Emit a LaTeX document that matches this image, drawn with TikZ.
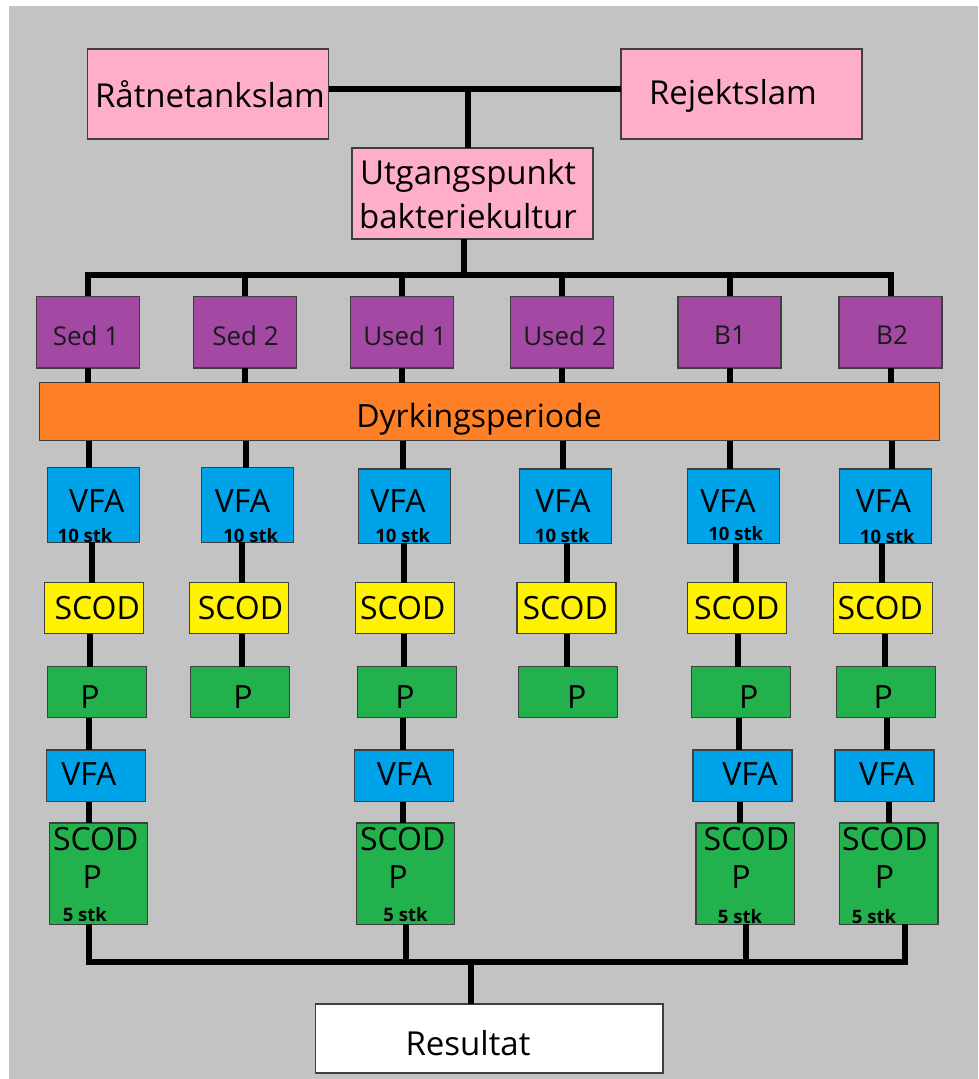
\documentclass[tikz,border=0pt]{standalone}
\usepackage{fontspec}
\setmainfont{Open Sans}
\definecolor{bgray}{HTML}{C3C3C3}
\definecolor{pinkc}{HTML}{FFAEC9}
\definecolor{purpc}{HTML}{A349A4}
\definecolor{orangec}{HTML}{FF7F27}
\definecolor{bluec}{HTML}{00A2E8}
\definecolor{yellowc}{HTML}{FFF200}
\definecolor{greenc}{HTML}{22B14C}
\definecolor{boxline}{HTML}{3F3F3F}
\newcommand\vlk[3]{\draw[conn] (#1.south -| #3,0) -- (#2.north -| #3,0);}
\begin{document}
\begin{tikzpicture}[x=1pt,y=-1pt,
  box/.style={draw=boxline,line width=1.3pt,inner sep=0pt,outer sep=0pt},
  topbox/.style={box,fill=pinkc,minimum width=241pt,minimum height=90pt},
  purpbox/.style={box,fill=purpc,minimum width=103pt,minimum height=71.7pt},
  bandbox/.style={box,fill=orangec,minimum width=900pt,minimum height=58pt},
  vfabox/.style={box,fill=bluec,minimum width=92pt,minimum height=74.5pt},
  vfatwo/.style={box,fill=bluec,minimum width=99pt,minimum height=51.7pt},
  scodbox/.style={box,fill=yellowc,minimum width=99pt,minimum height=51pt},
  pbox/.style={box,fill=greenc,minimum width=99pt,minimum height=51pt},
  scpbox/.style={box,fill=greenc,minimum width=98.5pt,minimum height=101.3pt},
  resbox/.style={box,fill=white,minimum width=347.3pt,minimum height=69pt},
  txt/.style={inner sep=0pt,text=black},
  bigtxt/.style={txt,font=\fontsize{33}{44}\selectfont},
  midtxt/.style={txt,font=\fontsize{32}{40}\selectfont},
  purtxt/.style={txt,font=\fontsize{26}{30}\selectfont,text=black!90},
  smalltxt/.style={txt,font=\bfseries\fontsize{18.5}{22}\selectfont},
  conn/.style={line width=6pt,black},
  hconn/.style={line width=6.5pt,black,line cap=rect}
]
\useasboundingbox (0,0) rectangle (978,1079);
\fill[white] (0,0) rectangle (978,1079);
\fill[bgray] (8.7,6) rectangle (978,1079);

% ---- top ----
\node[topbox] (rat) at (208,94) {};
\node[topbox] (rej) at (741.5,94) {};
\node[topbox,minimum height=91pt] (utg) at (472.5,193.5) {};
\node[bigtxt] (ratT) at (210,94) {Råtnetankslam};
\node[bigtxt] (rejT) at (733,96) {Rejektslam};
\node[bigtxt,align=center] (utgT) at (468,194) {Utgangspunkt\\bakteriekultur};
\coordinate (j1) at (468,89);
\coordinate (j2) at (463.5,275);
\draw[conn,line width=6.5pt] (rat.east |- j1) -- (rej.west |- j1);
\draw[conn] (j1) -- (j1 |- utg.north);
\draw[conn] (utg.south -| j2) -- (j2);

% ---- purple row ----
\node[purpbox] (s1) at (88,332) {};
\node[purpbox] (s2) at (245,332) {};
\node[purpbox] (u1) at (402,332) {};
\node[purpbox] (u2) at (561.7,332) {};
\node[purpbox] (b1) at (729.5,332) {};
\node[purpbox] (b2) at (890.5,332) {};
\node[purtxt] (s1T) at (86,335.5) {Sed 1};
\node[purtxt] (s2T) at (245.5,335.5) {Sed 2};
\node[purtxt] (u1T) at (405,335.5) {Used 1};
\node[purtxt] (u2T) at (565,335.5) {Used 2};
\node[purtxt] (b1T) at (730,335.5) {B1};
\node[purtxt] (b2T) at (892,335.5) {B2};
\draw[hconn] (s1.north |- j2) -- (b2.north |- j2);
\foreach \n in {s1,s2,u1,u2,b1,b2}{\draw[conn] (\n.north |- j2) -- (\n.north);}

% ---- band ----
\node[bandbox] (band) at (489.3,411.7) {};
\node[midtxt] (bandT) at (479,419) {Dyrkingsperiode};
\foreach \n in {s1,s2,u1,u2,b1,b2}{\draw[conn] (\n.south) -- (\n.south |- band.north);}

% ---- VFA row ----
\node[vfabox] (va1) at (93.5,505) {};
\node[vfabox] (va2) at (247.8,505) {};
\node[vfabox] (va3) at (404.7,506.2) {};
\node[vfabox] (va4) at (565.7,506.2) {};
\node[vfabox] (va5) at (733.5,506.2) {};
\node[vfabox] (va6) at (885.2,506.2) {};
\draw[conn] (band.south -| 89,0) -- (va1.north -| 89,0);
\draw[conn] (band.south -| 246,0) -- (va2.north -| 246,0);
\draw[conn] (band.south -| 403,0) -- (va3.north -| 403,0);
\draw[conn] (band.south -| 563,0) -- (va4.north -| 563,0);
\draw[conn] (band.south -| 730.3,0) -- (va5.north -| 730.3,0);
\draw[conn] (band.south -| 891.7,0) -- (va6.north -| 891.7,0);

% ---- SCOD row ----
\node[scodbox] (sc1) at (94.2,608.2) {};
\node[scodbox] (sc2) at (239,608.2) {};
\node[scodbox] (sc3) at (405.3,608.2) {};
\node[scodbox] (sc4) at (566.5,608.2) {};
\node[scodbox] (sc5) at (737,608.2) {};
\node[scodbox] (sc6) at (883,608.2) {};
\vlk{va1}{sc1}{92}
\vlk{va2}{sc2}{242.3}
\vlk{va3}{sc3}{404.3}
\vlk{va4}{sc4}{567}
\vlk{va5}{sc5}{736}
\vlk{va6}{sc6}{882.3}

% ---- P row ----
\node[pbox] (p1) at (97,692.2) {};
\node[pbox] (p2) at (240.3,692.2) {};
\node[pbox] (p3) at (406.7,692.2) {};
\node[pbox] (p4) at (567.8,692.2) {};
\node[pbox] (p5) at (741.2,692.2) {};
\node[pbox] (p6) at (885.8,692.2) {};
\vlk{sc1}{p1}{90.3}
\vlk{sc2}{p2}{242.3}
\vlk{sc3}{p3}{404.3}
\vlk{sc4}{p4}{566.7}
\vlk{sc5}{p5}{737.7}
\vlk{sc6}{p6}{885}

% ---- second VFA row ----
\node[vfatwo] (vb1) at (95.7,775.8) {};
\node[vfatwo] (vb3) at (404.2,775.8) {};
\node[vfatwo] (vb5) at (742.5,775.8) {};
\node[vfatwo] (vb6) at (884.5,775.8) {};
\vlk{p1}{vb1}{89}
\vlk{p3}{vb3}{403}
\vlk{p5}{vb5}{738.5}
\vlk{p6}{vb6}{886.5}

% ---- SCOD/P boxes ----
\node[scpbox] (sp1) at (98.5,873.7) {};
\node[scpbox] (sp3) at (405.5,873.7) {};
\node[scpbox] (sp5) at (745.2,873.7) {};
\node[scpbox] (sp6) at (888.6,873.7) {};
\vlk{vb1}{sp1}{89}
\vlk{vb3}{sp3}{403}
\vlk{vb5}{sp5}{740}
\vlk{vb6}{sp6}{889}

% ---- result ----
\node[resbox] (res) at (489.4,1038.5) {};
\node[bigtxt] (resT) at (468,1043) {Resultat};
\coordinate (jb) at (471,962);
\draw[conn] (sp1.south -| 89,0) -- (jb -| 89,0);
\draw[conn] (sp3.south -| 406,0) -- (jb -| 406,0);
\draw[conn] (sp5.south -| 745.5,0) -- (jb -| 745.5,0);
\draw[conn] (sp6.south -| 905.2,0) -- (jb -| 905.2,0);
\draw[hconn] (jb -| 89,0) -- (jb -| 905.2,0);
\draw[conn] (jb) -- (res.north -| jb);

% ---- texts ----
\node[midtxt] (va1T) at (96.7,501.5) {VFA};
\node[midtxt] (va2T) at (242.5,501.5) {VFA};
\node[midtxt] (va3T) at (398,501.5) {VFA};
\node[midtxt] (va4T) at (563,501.5) {VFA};
\node[midtxt] (va5T) at (728,501.5) {VFA};
\node[midtxt] (va6T) at (883.5,501.5) {VFA};
\node[smalltxt] (va1S) at (85,536) {10 stk};
\node[smalltxt] (va2S) at (250.7,536) {10 stk};
\node[smalltxt] (va3S) at (402.7,536) {10 stk};
\node[smalltxt] (va4S) at (562.3,536) {10 stk};
\node[smalltxt] (va5S) at (735.7,533.5) {10 stk};
\node[smalltxt] (va6S) at (887.3,536.5) {10 stk};
\node[midtxt] (sc1T) at (97.2,608.3) {SCOD};
\node[midtxt] (sc2T) at (240.5,608.3) {SCOD};
\node[midtxt] (sc3T) at (402.8,608.3) {SCOD};
\node[midtxt] (sc4T) at (565.2,608.3) {SCOD};
\node[midtxt] (sc5T) at (736.8,608.3) {SCOD};
\node[midtxt] (sc6T) at (880.2,608.3) {SCOD};
\node[midtxt] (p1T) at (90,697.5) {P};
\node[midtxt] (p2T) at (243,697.5) {P};
\node[midtxt] (p3T) at (405,697.5) {P};
\node[midtxt] (p4T) at (576.7,697.5) {P};
\node[midtxt] (p5T) at (748.7,697.5) {P};
\node[midtxt] (p6T) at (883.3,697.5) {P};
\node[midtxt] (vb1T) at (88.9,774.3) {VFA};
\node[midtxt] (vb3T) at (404.5,774.3) {VFA};
\node[midtxt] (vb5T) at (750,774.3) {VFA};
\node[midtxt] (vb6T) at (886.8,774.3) {VFA};
\node[midtxt] (sp1A) at (95.8,839.5) {SCOD};
\node[midtxt] (sp3A) at (402.7,839.5) {SCOD};
\node[midtxt] (sp5A) at (746.4,839.5) {SCOD};
\node[midtxt] (sp6A) at (884.9,839.5) {SCOD};
\node[midtxt] (sp1B) at (92.3,877) {P};
\node[midtxt] (sp3B) at (398,877) {P};
\node[midtxt] (sp5B) at (741,877) {P};
\node[midtxt] (sp6B) at (884.6,877) {P};
\node[smalltxt] (sp1C) at (84.8,915) {5 stk};
\node[smalltxt] (sp3C) at (405.5,915) {5 stk};
\node[smalltxt] (sp5C) at (740,917) {5 stk};
\node[smalltxt] (sp6C) at (874,917) {5 stk};
\end{tikzpicture}
\end{document}
